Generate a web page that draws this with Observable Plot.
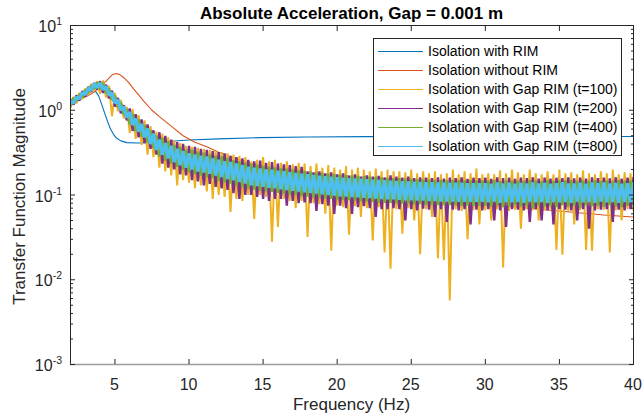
<!DOCTYPE html>
<html><head><meta charset="utf-8">
<script src="https://cdn.jsdelivr.net/npm/d3@7"></script>
<script src="https://cdn.jsdelivr.net/npm/@observablehq/plot@0.6"></script>
<style>
html,body{margin:0;padding:0;background:#fff;}
#wrap{position:relative;width:644px;height:417px;font-family:"Liberation Sans",Arial,Helvetica,sans-serif;}
#legend{position:absolute;left:373px;top:38px;width:249px;height:118px;background:#fff;border:1px solid #262626;box-sizing:border-box;}
.row{position:absolute;left:0;height:19px;display:flex;align-items:center;font-size:14px;color:#000;white-space:nowrap;}
.sw{display:inline-block;width:45px;height:0;border-top:1.6px solid;margin-left:4px;margin-right:5px;}
</style></head>
<body><div id="wrap"><div id="legend"></div></div>
<script>
const FONT = '"Liberation Sans", Arial, Helvetica, sans-serif';
const titleText = "Absolute Acceleration, Gap = 0.001 m";
const xLabelText = "Frequency (Hz)";
const yLabelText = "Transfer Function Magnitude";
const seriesNames = ["Isolation with RIM","Isolation without RIM","Isolation with Gap RIM (t=100)","Isolation with Gap RIM (t=200)","Isolation with Gap RIM (t=400)","Isolation with Gap RIM (t=800)"];
const seriesColors = ["#0072BD","#D95319","#EDB120","#7E2F8E","#77AC30","#4DBEEE"];
const xDomain = [2, 40];
const yDomain = [1e-3, 10];
const xTicks = [5,10,15,20,25,30,35,40];
const yExponents = [-3,-2,-1,0,1];
const yMinorMultipliers = [2,3,4,5,6,7,8,9];

// Isolation with RIM (smooth)
const rimF   = [2.0,2.4,2.8,3.1,3.3,3.5,3.7,3.9,4.1,4.3,4.5,4.7,4.9,5.1,5.4,5.8,6.5,7.5,8.8,10,12,14.8,18,22,30,40];
const rimMag = [1.2,1.3,1.44,1.57,1.66,1.72,1.66,1.48,1.18,0.93,0.74,0.6,0.52,0.47,0.435,0.415,0.41,0.415,0.43,0.445,0.46,0.475,0.483,0.488,0.49,0.49];
// Isolation without RIM (smooth)
const noRimF   = [2.0,2.5,3.0,3.5,4.0,4.5,4.8,5.05,5.3,5.6,5.9,6.3,6.7,7.0,7.5,8.0,8.8,9.6,10.4,11.2,12,13,14,16,18,20,23,26,30,34,38,40];
const noRimMag = [1.2,1.3,1.43,1.6,1.88,2.3,2.6,2.72,2.65,2.42,2.15,1.75,1.45,1.25,1.0,0.84,0.65,0.5,0.42,0.37,0.32,0.275,0.24,0.19,0.158,0.135,0.11,0.093,0.078,0.067,0.058,0.055];

// Gap RIM series, sampled every 0.2 Hz from 2 Hz to 40 Hz
const gapStart = 2, gapStep = 0.2;
const gap100 = [
1.07,1.44,1.2,1.61,1.35,1.81,1.51,2.05,1.69,2.2,
1.56,2.25,1.41,1.94,.85,1.6,.97,1.32,.8,1.1,
.54,1.03,.46,.88,.39,.76,.3,.65,.28,.56,
.21,.53,.19,.48,.17,.44,.13,.41,.15,.38,
.14,.37,.12,.36,.13,.35,.11,.34,.09,.33,
.1,.32,.095,.31,.063,.3,.09,.29,.085,.28,
.1,.25,.052,.26,.1,.28,.095,.25,.028,.26,
.042,.24,.09,.25,.085,.23,.07,.24,.085,.235,
.032,.22,.08,.235,.078,.21,.06,.225,.022,.21,
.075,.2,.072,.22,.034,.2,.074,.21,.055,.2,
.07,.19,.029,.205,.072,.19,.021,.2,.0135,.19,
.068,.19,.035,.185,.07,.2,.05,.18,.02,.19,
.068,.18,.055,.19,.018,.175,.017,.18,.0057,.2,
.068,.175,.065,.19,.03,.18,.066,.205,.045,.175,
.066,.18,.05,.175,.068,.195,.014,.18,.065,.2,
.067,.185,.04,.175,.068,.2,.066,.18,.05,.175,
.066,.19,.068,.175,.0225,.2,.0198,.18,.065,.185,
.045,.175,.066,.195,.0225,.18,.022,.175,.068,.19,
.067,.18,.021,.2,.066,.175,.05,.185,.068,.18,
.066];
const gap200 = [
1.34,1.16,1.5,1.3,1.68,1.46,1.89,1.65,2.1,1.77,
2.2,1.6,2.0,1.38,1.7,1.1,1.4,.92,1.15,.76,
1.05,.57,.9,.48,.78,.41,.68,.35,.58,.30,
.55,.235,.5,.21,.45,.2,.42,.175,.4,.17,
.38,.15,.37,.145,.35,.13,.34,.135,.33,.125,
.32,.12,.31,.115,.29,.105,.28,.09,.27,.1,
.26,.1,.25,.095,.255,.09,.24,.085,.245,.09,
.235,.09,.23,.075,.225,.085,.22,.08,.215,.082,
.19,.08,.185,.065,.19,.078,.18,.075,.185,.06,
.175,.075,.18,.07,.17,.06,.175,.072,.165,.074,
.17,.07,.165,.055,.168,.068,.162,.068,.17,.07,
.165,.068,.16,.05,.165,.068,.158,.066,.162,.069,
.16,.067,.158,.055,.162,.068,.156,.048,.16,.067,
.158,.066,.162,.068,.155,.045,.16,.067,.158,.066,
.16,.068,.155,.05,.162,.066,.158,.042,.16,.068,
.155,.067,.16,.066,.158,.048,.162,.068,.156,.05,
.16,.066,.156,.045,.16,.068,.158,.067,.162,.066,
.157,.05,.16,.068,.156,.04,.162,.066,.158,.067,
.16,.068,.157,.048,.162,.067,.156,.066,.16,.068,
.16];
const gap400 = [
1.14,1.39,1.27,1.55,1.42,1.75,1.6,1.97,1.79,2.13,
1.76,2.1,1.58,1.81,1.32,1.49,1.09,1.23,.88,1.03,
.68,.91,.57,.78,.49,.67,.42,.58,.36,.50,
.285,.47,.255,.43,.235,.39,.215,.37,.20,.34,
.184,.34,.176,.325,.17,.315,.164,.30,.158,.29,
.147,.285,.141,.275,.136,.26,.13,.25,.125,.24,
.119,.232,.116,.226,.113,.22,.111,.216,.109,.212,
.106,.207,.104,.204,.102,.20,.10,.195,.098,.192,
.096,.189,.094,.185,.093,.182,.091,.179,.09,.176,
.089,.174,.088,.172,.087,.17,.086,.168,.085,.167,
.084,.165,.083,.163,.082,.161,.081,.159,.081,.158,
.080,.158,.079,.156,.079,.155,.078,.154,.078,.153,
.077,.152,.077,.151,.076,.151,.076,.150,.076,.150,
.076,.150,.075,.149,.075,.149,.075,.149,.075,.149,
.075,.148,.073,.150,.076,.146,.072,.149,.074,.147,
.076,.149,.073,.147,.075,.150,.070,.148,.076,.146,
.074,.150,.075,.147,.072,.149,.076,.148,.073,.150,
.075,.147,.071,.149,.076,.148,.074,.150,.075,.146,
.073,.149,.076,.147,.074,.150,.072,.148,.075,.149,
.075];
const gap800 = [
1.27,1.22,1.42,1.37,1.61,1.53,1.82,1.72,2.06,1.84,
2.10,1.76,1.90,1.50,1.60,1.22,1.32,1.00,1.10,0.82,
.95,.67,.80,.56,.69,.48,.61,.40,.53,.34,
.45,.30,.41,.27,.38,.245,.35,.225,.33,.21,
.31,.20,.30,.19,.29,.185,.285,.178,.27,.17,
.26,.163,.25,.155,.245,.15,.235,.143,.225,.137,
.215,.13,.21,.128,.205,.125,.20,.122,.198,.12,
.193,.117,.19,.115,.186,.112,.182,.11,.178,.108,
.176,.106,.172,.104,.169,.102,.166,.10,.164,.099,
.162,.097,.16,.096,.158,.095,.157,.094,.155,.093,
.153,.092,.151,.091,.15,.09,.149,.089,.147,.089,
.146,.088,.145,.087,.144,.087,.143,.086,.142,.086,
.141,.085,.141,.085,.14,.084,.14,.084,.139,.084,
.139,.083,.139,.083,.138,.083,.138,.083,.138,.083,
.138,.082,.136,.084,.140,.081,.137,.083,.139,.082,
.136,.083,.139,.081,.137,.084,.140,.082,.137,.083,
.139,.081,.136,.083,.138,.082,.141,.083,.137,.081,
.137,.084,.139,.082,.136,.083,.140,.081,.138,.084,
.140,.082,.137,.083,.139,.081,.136,.083,.138,.082,
.137];

const yMajor = yExponents.map(e => Math.pow(10, e));
const yMinor = yExponents.slice(0, -1).flatMap(e => yMinorMultipliers.map(m => m * Math.pow(10, e)));
const gapX = (d, i) => gapStart + i * gapStep;
const gapSeries = [gap100, gap200, gap400, gap800];
const gapWidths = [2.0, 2.4, 2.6, 3.4];
const AX = "#262626";

const chart = Plot.plot({
  width: 644, height: 417,
  marginTop: 25, marginRight: 11, marginBottom: 53, marginLeft: 70,
  style: {fontFamily: FONT, fontSize: "13px", color: AX, background: "transparent", overflow: "visible"},
  x: {domain: xDomain, label: null},
  y: {type: "log", domain: yDomain, label: null},
  marks: [
    Plot.line(rimF, {x: d => d, y: (d, i) => rimMag[i], stroke: seriesColors[0], strokeWidth: 1.1, clip: true}),
    Plot.line(noRimF, {x: d => d, y: (d, i) => noRimMag[i], stroke: seriesColors[1], strokeWidth: 1.1, clip: true}),
    ...gapSeries.map((s, k) => Plot.line(s, {x: gapX, y: d => d, stroke: seriesColors[k + 2], strokeWidth: gapWidths[k], strokeLinejoin: "miter", strokeMiterlimit: 1, clip: true})),
    Plot.frame({stroke: AX}),
    Plot.ruleY([yDomain[0]], {stroke: "#9a9a9a", strokeWidth: 1.6}),
    Plot.axisX(xTicks, {anchor: "bottom", tickSize: -5, tickFormat: () => "", label: null, stroke: AX}),
    Plot.axisX(xTicks, {anchor: "top", tickSize: -5, tickFormat: () => "", label: null, stroke: AX}),
    Plot.axisY(yMajor, {anchor: "left", tickSize: -5, tickFormat: () => "", label: null, stroke: AX}),
    Plot.axisY(yMajor, {anchor: "right", tickSize: -5, tickFormat: () => "", label: null, stroke: AX}),
    Plot.axisY(yMinor, {anchor: "left", tickSize: -3, tickFormat: () => "", label: null, stroke: AX}),
    Plot.axisY(yMinor, {anchor: "right", tickSize: -3, tickFormat: () => "", label: null, stroke: AX})
  ]
});
document.getElementById("wrap").prepend(chart);

const xs = chart.scale("x"), ys = chart.scale("y");
const svg = d3.select(chart);
const g = svg.append("g").attr("font-family", FONT).attr("fill", AX);
const x0 = xs.apply(xDomain[0]), x1 = xs.apply(xDomain[1]);
const yb = ys.apply(yDomain[0]), yt = ys.apply(yDomain[1]);

xTicks.forEach(t => g.append("text").attr("x", xs.apply(t)).attr("y", yb + 25.5)
  .attr("text-anchor", "middle").attr("font-size", 16).text(String(t)));
yExponents.forEach(e => {
  const t = g.append("text").attr("x", x0 - 8).attr("y", ys.apply(Math.pow(10, e)) + 7)
    .attr("text-anchor", "end").attr("font-size", 16);
  t.append("tspan").text("10");
  t.append("tspan").attr("dy", -7).attr("font-size", 10.5).text(String(e));
});
g.append("text").attr("x", (x0 + x1) / 2).attr("y", yb + 45.5).attr("text-anchor", "middle")
  .attr("font-size", 17).text(xLabelText);
g.append("text").attr("transform", `translate(25,${(yb + yt) / 2 + 2}) rotate(-90)`).attr("text-anchor", "middle")
  .attr("font-size", 17).text(yLabelText);
g.append("text").attr("x", (x0 + x1) / 2).attr("y", yt - 6.5).attr("text-anchor", "middle")
  .attr("font-size", 17).attr("font-weight", "bold").attr("fill", "#000").text(titleText);

const legend = document.getElementById("legend");
seriesNames.forEach((name, i) => {
  const row = document.createElement("div");
  row.className = "row";
  row.style.top = (2.5 + i * 19) + "px";
  const sw = document.createElement("span");
  sw.className = "sw";
  sw.style.borderTopColor = seriesColors[i];
  row.appendChild(sw);
  row.appendChild(document.createTextNode(name));
  legend.appendChild(row);
});
</script>
</body></html>
